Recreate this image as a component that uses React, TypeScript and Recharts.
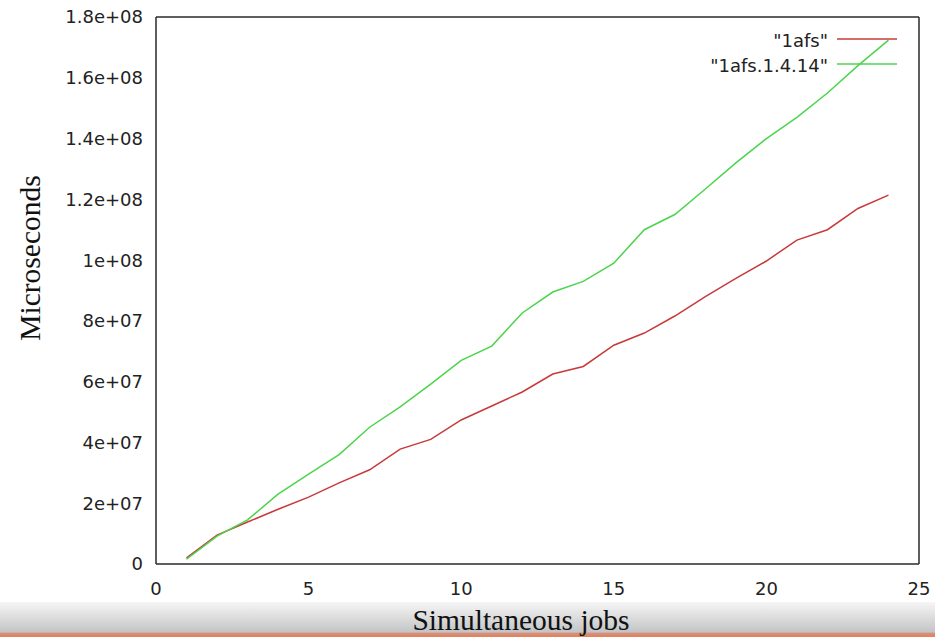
import React from 'react';
import { LineChart, Line, XAxis, YAxis, Customized } from 'recharts';

const jobs = [1, 2, 3, 4, 5, 6, 7, 8, 9, 10, 11, 12, 13, 14, 15, 16, 17, 18, 19, 20, 21, 22, 23, 24];
const afs = [2.0e6, 9.5e6, 13.8e6, 18.0e6, 22.0e6, 26.7e6, 31.0e6, 37.8e6, 41.0e6, 47.4e6, 52.0e6, 56.6e6, 62.5e6, 65.0e6, 72.0e6, 76.0e6, 81.6e6, 88.0e6, 94.0e6, 99.7e6, 106.6e6, 110.0e6, 117.0e6, 121.4e6];
const afs1414 = [1.6e6, 9.2e6, 14.5e6, 23.0e6, 29.6e6, 36.0e6, 45.0e6, 51.7e6, 59.2e6, 67.0e6, 71.7e6, 82.6e6, 89.5e6, 93.0e6, 99.0e6, 110.0e6, 115.0e6, 123.4e6, 132.0e6, 140.0e6, 147.0e6, 155.0e6, 164.0e6, 172.4e6];

const xTicks = [0, 5, 10, 15, 20, 25];
const yTicks = [0, 2e7, 4e7, 6e7, 8e7, 1e8, 1.2e8, 1.4e8, 1.6e8, 1.8e8];
const seriesKeys = ['afs', 'afs1414'];
const seriesNames = ['"1afs"', '"1afs.1.4.14"'];
const seriesColors = ['#c83a3a', '#4cd44c'];
const xTitle = 'Simultaneous jobs';
const yTitle = 'Microseconds';

const data = jobs.map((j, i) => ({ jobs: j, afs: afs[i], afs1414: afs1414[i] }));

const fmtY = (v: number) => {
  if (v === 0) return '0';
  const exp = Math.floor(Math.log10(v) + 1e-9);
  const mant = parseFloat((v / Math.pow(10, exp)).toFixed(3));
  return `${mant}e+${String(exp).padStart(2, '0')}`;
};

const tickFont = { fontFamily: 'DejaVu Sans', fontSize: 18, fill: '#222' };
const axisColor = '#2a2a2a';
const lineStyle = { stroke: axisColor, strokeWidth: 1.5 };

const LegendBox = () => (
  <g>
    {seriesNames.map((n, i) => (
      <g key={n}>
        <text
          x={828}
          y={40 + i * 25}
          textAnchor="end"
          dominantBaseline="central"
          fontFamily="DejaVu Sans"
          fontSize={18}
          fill="#222"
        >
          {n}
        </text>
        <line x1={837} x2={897} y1={39 + i * 25} y2={39 + i * 25} stroke={seriesColors[i]} strokeWidth={1.5} />
      </g>
    ))}
  </g>
);

const XTitle = () => (
  <text x={521} y={630} textAnchor="middle" fontFamily="Liberation Serif" fontSize={29.5} fill="#111">
    {xTitle}
  </text>
);

const YTitle = () => (
  <text
    x={0}
    y={0}
    transform="translate(40,258) rotate(-90)"
    textAnchor="middle"
    fontFamily="Liberation Serif"
    fontSize={29.5}
    fill="#111"
  >
    {yTitle}
  </text>
);

export default function App() {
  return (
    <div style={{ position: 'absolute', left: 0, top: 0, width: 935, height: 637, background: '#fff', overflow: 'hidden' }}>
      <div
        style={{
          position: 'absolute',
          left: 0,
          top: 602,
          width: 935,
          height: 35,
          background: 'linear-gradient(to bottom, #f6f6f6 0%, #dcdcdc 45%, #c2c4c6 86%, #d99078 89%, #e0805e 100%)',
        }}
      />
      <div style={{ position: 'absolute', left: 0, top: 0 }}>
        <LineChart width={935} height={637} data={data} margin={{ top: 17, right: 16, left: 0, bottom: 0 }}>
          <XAxis
            dataKey="jobs"
            type="number"
            domain={[0, 25]}
            ticks={xTicks}
            interval={0}
            height={73}
            tickSize={0}
            tickMargin={18}
            tick={tickFont}
            axisLine={lineStyle}
            tickLine={false}
          />
          <XAxis
            xAxisId="bottomTicks"
            orientation="bottom"
            mirror
            type="number"
            domain={[0, 25]}
            ticks={xTicks}
            interval={0}
            tickSize={10}
            tick={false}
            axisLine={false}
            tickLine={lineStyle}
          />
          <XAxis
            xAxisId="top"
            orientation="top"
            mirror
            type="number"
            domain={[0, 25]}
            ticks={xTicks}
            interval={0}
            tickSize={10}
            tick={false}
            axisLine={lineStyle}
            tickLine={lineStyle}
          />
          <YAxis
            type="number"
            domain={[0, 1.8e8]}
            ticks={yTicks}
            interval={0}
            width={156}
            tickSize={0}
            tickMargin={13}
            tickFormatter={fmtY}
            tick={tickFont}
            axisLine={lineStyle}
            tickLine={false}
          />
          <YAxis
            yAxisId="leftTicks"
            orientation="left"
            mirror
            type="number"
            domain={[0, 1.8e8]}
            ticks={yTicks}
            interval={0}
            tickSize={10}
            tick={false}
            axisLine={false}
            tickLine={lineStyle}
          />
          <YAxis
            yAxisId="right"
            orientation="right"
            mirror
            type="number"
            domain={[0, 1.8e8]}
            ticks={yTicks}
            interval={0}
            tickSize={10}
            tick={false}
            axisLine={lineStyle}
            tickLine={lineStyle}
          />
          <Customized component={LegendBox} />
          <Customized component={XTitle} />
          <Customized component={YTitle} />
          {seriesKeys.map((k, i) => (
            <Line
              key={k}
              dataKey={k}
              name={seriesNames[i]}
              type="linear"
              stroke={seriesColors[i]}
              strokeWidth={1.5}
              dot={false}
              activeDot={false}
              isAnimationActive={false}
            />
          ))}
        </LineChart>
      </div>
    </div>
  );
}
